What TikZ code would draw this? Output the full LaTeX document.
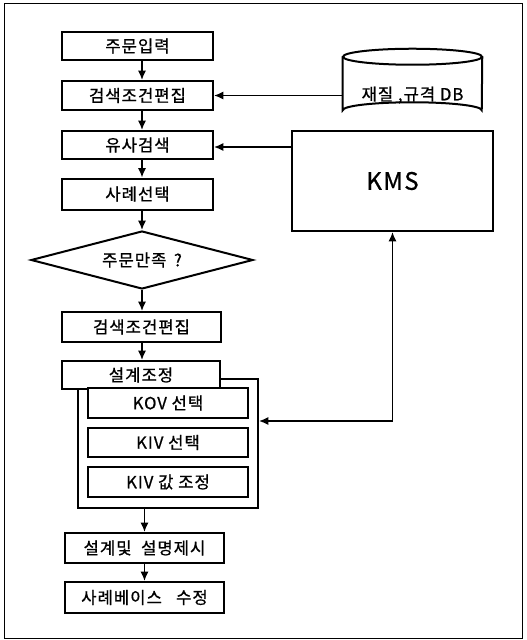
\documentclass[tikz,border=0pt]{standalone}
\usepackage{fontspec}
\setmainfont{Noto Sans CJK KR}[FakeBold=0.8,LetterSpace=6]
\usetikzlibrary{shapes.geometric,arrows.meta}

\begin{document}
\begin{tikzpicture}[x=0.75pt,y=0.75pt,yscale=-1,xscale=1,
    sz/.style 2 args={minimum width=0.75pt*#1,minimum height=0.75pt*#2},
    stepbox/.style={draw,line width=1.5pt,fill=white,inner sep=0pt,font=\fontsize{12.5}{14}\selectfont},
    decide/.style={stepbox,shape=diamond,aspect=3.8},
    flow/.style={line width=1.1pt,-{Latex[length=7pt,width=6pt]}},
    both/.style={line width=1.1pt,{Latex[length=7pt,width=6pt]}-{Latex[length=7pt,width=6pt]}}]
    \useasboundingbox (0,0) rectangle (527,640);
    \draw [line width=0.75pt] (4,3) rectangle (522,638);
    % main flow
    \node [stepbox,sz={151}{28}] (order) at (137.5,46) {주문입력};
    \node [stepbox,sz={151}{29}] (edit) at (137.5,95.5) {검색조건편집};
    \node [stepbox,sz={151}{28}] (search) at (137.5,145) {유사검색};
    \node [stepbox,sz={151}{31}] (select) at (137.5,194) {사례선택};
    \node [decide,sz={222}{58}] (ok) at (142,260) {주문만족 \,?};
    \node [stepbox,sz={159}{30}] (reedit) at (141.5,327) {검색조건편집};
    % design adjustment group
    \node [stepbox,fill=none,sz={180}{129}] (group) at (168,443.5) {};
    \node [stepbox,sz={158}{28}] (design) at (141,375) {설계조정};
    \node [stepbox,sz={160}{30}] (kov) at (168,403) {KOV 선택};
    \node [stepbox,sz={160}{29}] (kiv) at (168,442.5) {KIV 선택};
    \node [stepbox,sz={160}{30}] (kivval) at (168,482) {KIV 값 조정};
    \node [stepbox,sz={159}{30}] (present) at (144.5,548) {설계및 \ 설명제시};
    \node [stepbox,sz={159}{31}] (base) at (144.5,597.5) {사례베이스 \ \ 수정};
    % database and KMS
    \node [sz={139}{53},inner sep=0pt] (dbbody) at (412.5,83.5) {};
    \draw [line width=1.5pt,fill=white] (dbbody.north) ellipse [x radius=69.5,y radius=8];
    \draw [line width=1.5pt] (dbbody.north west) -- (dbbody.south west)
        arc [start angle=180,end angle=360,x radius=69.5,y radius=8] -- (dbbody.north east);
    \node [font=\fontsize{12.5}{14}\selectfont] (db) at (412.5,95) {재질 ,규격 DB};
    \node [stepbox,sz={201}{100},font=\fontsize{18}{20}\selectfont] (kms) at (392.5,181) {KMS};
    \coordinate (bend) at (392.5,421);
    % connectors
    \draw [flow] (order.south -| ok.north) -- (edit.north -| ok.north);
    \draw [flow] (edit.south -| ok.north) -- (search.north -| ok.north);
    \draw [flow] (search.south -| ok.north) -- (select.north -| ok.north);
    \draw [flow] (select.south -| ok.north) -- (ok.north);
    \draw [flow] (ok.south) -- (reedit.north -| ok.south);
    \draw [flow] (reedit.south -| ok.south) -- (design.north -| ok.south);
    \draw [flow] (group.south -| present.north) -- (present.north);
    \draw [flow] (present.south) -- (base.north);
    \draw [flow] (edit.east -| dbbody.west) -- (edit.east);
    \draw [flow] (kms.west |- 0,147) -- (search.east |- 0,147);
    \draw [both] (kms.south) -- (bend) -- (bend -| group.east);
\end{tikzpicture}
\end{document}
